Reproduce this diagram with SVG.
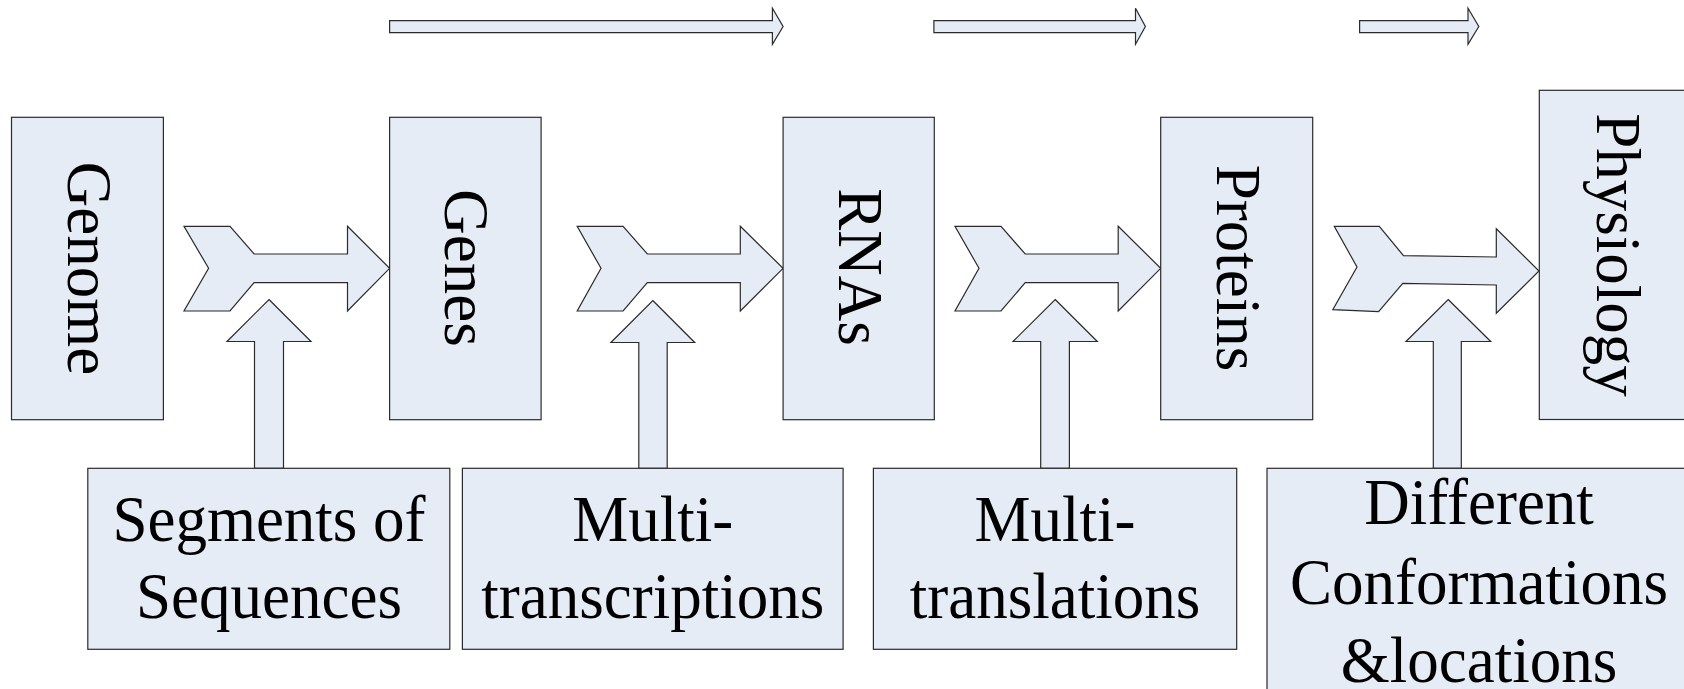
<svg xmlns="http://www.w3.org/2000/svg" width="1684" height="689" viewBox="0 0 1684 689">
<style>
.shape{fill:#E5ECF6;stroke:#2b2b2b;stroke-width:1.2}
.t{font-family:"Liberation Serif","Times New Roman",serif;font-size:63px;fill:#000;text-anchor:middle}
</style>
<rect width="1684" height="689" fill="#fff"/>
<g id="connectors">
  <polygon class="shape" points="389.6,20.7 772.4,20.7 772.4,8.3 783.1,26.5 772.4,44.3 772.4,32.7 389.6,32.7"/>
  <polygon class="shape" points="933.9,20.7 1135.5,20.7 1135.5,8.3 1145.4,26.5 1135.5,44.3 1135.5,32.7 933.9,32.7"/>
  <polygon class="shape" points="1359.6,20.7 1468,20.7 1468,8.3 1478.8,26.5 1468,44.3 1468,32.7 1359.6,32.7"/>
  <polygon class="shape" points="184,226.3 230,226.3 254.1,254 347.5,254 347.5,226.3 389.6,268.3 347.5,311 347.5,282.7 254.1,282.7 230,311 184,311 208.6,268.3"/>
  <polygon class="shape" points="577.2,226.3 623.1,226.3 647.3,254 740.3,254 740.3,226.3 783.1,268.3 740.3,311 740.3,282.7 647.3,282.7 623.1,311 577.2,311 601,268.3"/>
  <polygon class="shape" points="955,226.3 1001,226.3 1025.2,254 1118.2,254 1118.2,226.3 1160.7,268.3 1118.2,311 1118.2,282.7 1025.2,282.7 1001,311 955,311 979,268.3"/>
  <polygon class="shape" points="1334.3,226.3 1379.3,226.3 1403.5,255.7 1496.3,257 1496.3,228.7 1539,271 1496.3,313.3 1496.3,285 1402.8,283.3 1378.6,311.7 1332.8,309.7 1357,267"/>
  <polygon class="shape" points="269,299.5 311,341.5 283.5,341.5 283.5,468.3 254.5,468.3 254.5,341.5 227,341.5"/>
  <polygon class="shape" points="652.8,300.5 694.7,342.5 667.2,342.5 667.2,468.3 638.8,468.3 638.8,342.5 610.9,342.5"/>
  <polygon class="shape" points="1055.2,299.5 1097.3,341.5 1069.4,341.5 1069.4,468.3 1040.7,468.3 1040.7,341.5 1013,341.5"/>
  <polygon class="shape" points="1448.2,299.5 1490.7,341.5 1461.3,341.5 1461.3,468.3 1433.3,468.3 1433.3,341.5 1406,341.5"/>
</g>
<g id="genome">
  <rect class="shape" x="11.5" y="117.3" width="151.9" height="302.4"/>
  <text class="t" transform="translate(67.5,268.5) rotate(90)">Genome</text>
</g>
<g id="genes">
  <rect class="shape" x="389.6" y="117.3" width="151.5" height="302.4"/>
  <text class="t" transform="translate(445,268) rotate(90)">Genes</text>
</g>
<g id="rnas">
  <rect class="shape" x="783.1" y="117.3" width="151.2" height="302.4"/>
  <text class="t" transform="translate(839,267) rotate(90)">RNAs</text>
</g>
<g id="proteins">
  <rect class="shape" x="1160.7" y="117.3" width="152" height="302.4"/>
  <text class="t" transform="translate(1216.5,268) rotate(90)">Proteins</text>
</g>
<g id="physiology">
  <rect class="shape" x="1539.3" y="90.3" width="152" height="329.2"/>
  <text class="t" transform="translate(1596.7,255) rotate(90)">Physiology</text>
</g>
<g id="segments">
  <rect class="shape" x="87.8" y="468.3" width="362" height="181"/>
  <text class="t" transform="translate(269,541) scale(1,1.04)">Segments of</text>
  <text class="t" transform="translate(269,618) scale(1,1.04)">Sequences</text>
</g>
<g id="multi-transcriptions">
  <rect class="shape" x="462.4" y="468.3" width="380.7" height="181"/>
  <text class="t" transform="translate(652.7,541) scale(1,1.04)">Multi-</text>
  <text class="t" transform="translate(652.7,618) scale(1,1.04)">transcriptions</text>
</g>
<g id="multi-translations">
  <rect class="shape" x="873.4" y="468.3" width="363.3" height="181"/>
  <text class="t" transform="translate(1055,541) scale(1,1.04)">Multi-</text>
  <text class="t" transform="translate(1055,618) scale(1,1.04)">translations</text>
</g>
<g id="conformations">
  <rect class="shape" x="1267" y="468.3" width="425" height="240"/>
  <text class="t" transform="translate(1479,524) scale(1,1.04)">Different</text>
  <text class="t" transform="translate(1479,604) scale(1,1.04)">Conformations</text>
  <text class="t" transform="translate(1479,682) scale(1,1.04)">&amp;locations</text>
</g>
</svg>
